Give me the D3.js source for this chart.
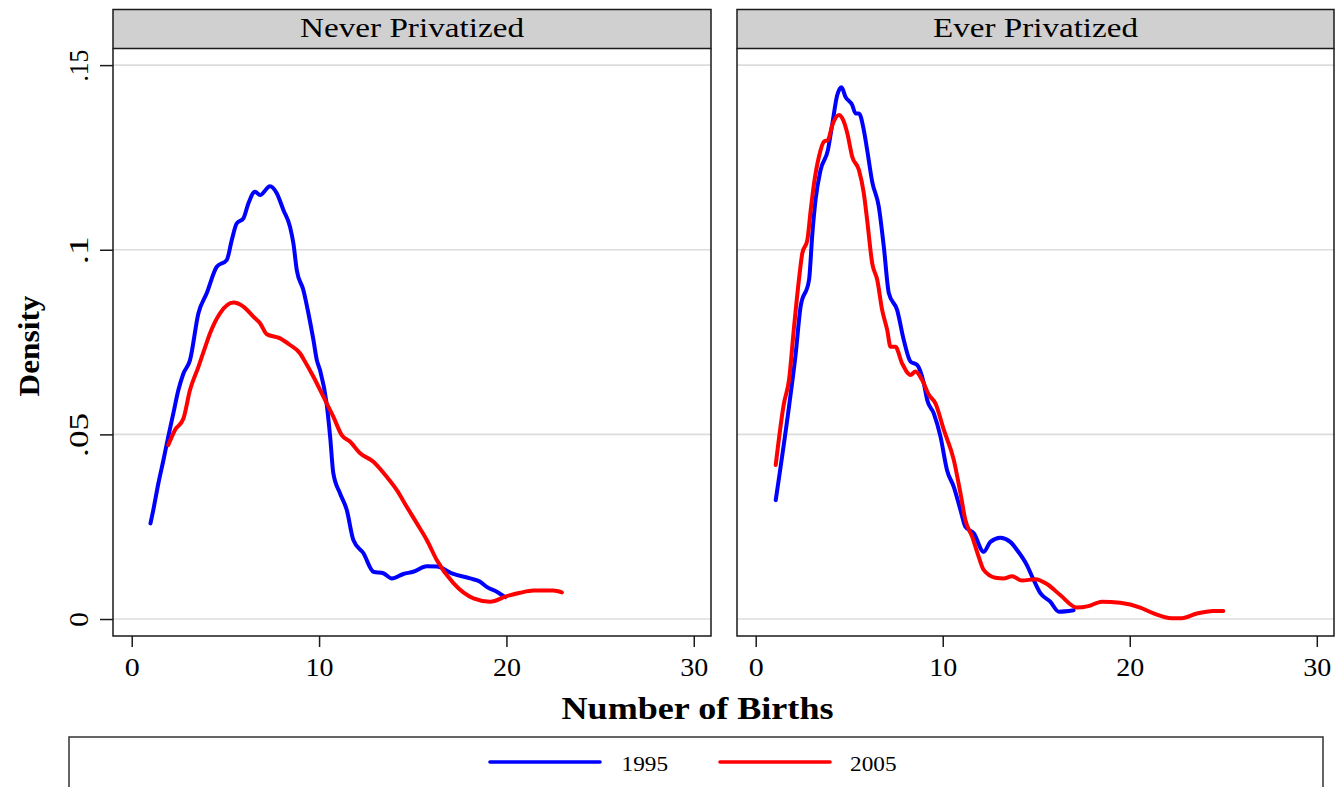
<!DOCTYPE html>
<html>
<head>
<meta charset="utf-8">
<script src="https://cdn.jsdelivr.net/npm/d3@7"></script>
<style>
html,body{margin:0;padding:0;background:#fff;}
svg{display:block;}
text{font-family:"Liberation Serif","Times New Roman",serif;fill:#000;}
</style>
</head>
<body>
<svg id="chart" width="1335" height="787"></svg>
<script>
// ---------- DATA ----------
const panelTitles = ["Never Privatized", "Ever Privatized"];
const seriesNames = ["1995", "2005"];
const xTicks = [0, 10, 20, 30];
const yTicks = [0, 0.05, 0.1, 0.15];
const yTickLabels = ["0", ".05", ".1", ".15"];

// Never Privatized, 1995
const neverX1995 = [1.0,1.15,1.42,1.69,1.95,2.22,2.49,2.76,3.11,3.56,4.0,4.54,5.07,5.34,5.6,5.96,6.23,6.58,6.85,7.38,7.74,8.1,8.45,8.63,8.81,9.16,9.43,9.7,9.88,10.05,10.4,10.59,10.76,11.12,11.48,11.83,12.37,12.9,13.43,13.88,14.5,15.03,15.75,16.28,17.17,18.06,18.6,18.95,19.49,19.93];
const neverY1995 = [0.0259,0.0295,0.0367,0.043,0.0494,0.0557,0.062,0.0665,0.0701,0.0828,0.0882,0.0954,0.0972,0.1026,0.1071,0.1085,0.1126,0.1157,0.1148,0.1172,0.1153,0.1107,0.1062,0.1017,0.0945,0.0891,0.0828,0.0755,0.0701,0.0674,0.0584,0.0494,0.0395,0.034,0.0295,0.0214,0.0178,0.0128,0.0124,0.011,0.0122,0.0128,0.0143,0.0142,0.0122,0.011,0.0101,0.0087,0.0074,0.0059];
// Never Privatized, 2005
const neverX2005 = [1.95,2.31,2.76,3.11,3.56,3.91,4.18,4.71,5.43,5.96,6.49,6.85,7.21,7.92,8.45,8.99,9.16,9.7,10.23,10.76,11.21,11.66,12.19,12.9,13.61,14.15,14.68,15.22,15.75,16.28,17.17,18.24,19.13,20.02,20.73,21.44,22.5,22.96];
const neverY2005 = [0.0471,0.0512,0.0543,0.062,0.0683,0.0735,0.0774,0.0828,0.0857,0.0846,0.0819,0.0801,0.0771,0.076,0.0742,0.0719,0.0705,0.0656,0.0602,0.0548,0.0498,0.048,0.0449,0.0426,0.0385,0.0349,0.0304,0.0259,0.0214,0.016,0.0097,0.0056,0.0047,0.0062,0.0071,0.0077,0.0077,0.0072];
// Ever Privatized, 1995
const everX1995 = [1.07,1.78,2.14,2.4,2.85,3.03,3.2,3.47,3.86,4.1,4.36,4.59,4.8,5.16,5.34,5.52,5.78,5.96,6.23,6.58,6.85,7.12,7.56,7.92,8.28,8.63,8.99,9.17,9.52,9.88,10.23,10.59,10.95,11.21,11.66,12.19,12.55,13.08,13.61,13.97,14.5,14.86,15.22,15.75,16.2,17.0];
const everY1995 = [0.0322,0.0575,0.0719,0.0846,0.0918,0.1044,0.1135,0.1216,0.127,0.1342,0.1419,0.144,0.1414,0.1392,0.1369,0.1369,0.1324,0.127,0.1184,0.1117,0.1008,0.0882,0.0837,0.0755,0.0697,0.0688,0.0638,0.0593,0.0557,0.0494,0.0403,0.0358,0.0295,0.025,0.0232,0.0182,0.0209,0.022,0.0209,0.0187,0.0146,0.0106,0.007,0.0047,0.002,0.0024];
// Ever Privatized, 2005
const everX2005 = [1.07,1.51,1.78,2.05,2.31,2.49,2.76,2.94,3.12,3.38,3.65,3.86,4.1,4.45,4.63,4.9,5.16,5.52,5.78,5.96,6.23,6.5,6.76,7.03,7.21,7.47,7.83,8.28,8.54,8.9,9.26,9.61,10.06,10.59,10.95,11.21,11.57,11.92,12.19,12.81,13.26,13.7,14.24,14.95,15.57,16.28,17.17,17.79,18.51,19.49,20.56,21.27,22.25,22.78,23.59,24.47,25.0];
const everY2005 = [0.0417,0.0584,0.0647,0.0791,0.0918,0.099,0.1026,0.1107,0.118,0.1252,0.1293,0.1297,0.1338,0.1365,0.1356,0.1315,0.1252,0.1216,0.1153,0.108,0.0963,0.0918,0.0837,0.0783,0.0737,0.0737,0.0692,0.0661,0.067,0.0647,0.0607,0.0584,0.0512,0.0431,0.034,0.0268,0.0223,0.0169,0.0133,0.0112,0.011,0.0116,0.0104,0.0108,0.0095,0.0065,0.0031,0.0035,0.0047,0.0044,0.0031,0.0015,0.0002,0.0002,0.0015,0.0022,0.0022];

const seriesColors = ["#0000ff", "#ff0000"];

const panels = [
  {title: panelTitles[0], series: [[neverX1995, neverY1995], [neverX2005, neverY2005]]},
  {title: panelTitles[1], series: [[everX1995, everY1995], [everX2005, everY2005]]}
];

// ---------- LAYOUT ----------
const svg = d3.select("#chart");
const panelBoxes = [{x0: 113, x1: 711, titleW: 224}, {x0: 737, x1: 1334, titleW: 205}];
const headTop = 9.5, plotTop = 48.5, plotBottom = 636;

const y = d3.scaleLinear().domain([-0.0046, 0.1545]).range([plotBottom, plotTop]);

panels.forEach((p, i) => {
  const b = panelBoxes[i];
  const x = d3.scaleLinear().domain([-1.0, 30.92]).range([b.x0, b.x1]);
  const g = svg.append("g");

  // header strip
  g.append("rect").attr("x", b.x0).attr("y", headTop).attr("width", b.x1 - b.x0).attr("height", plotTop - headTop)
    .attr("fill", "#d0d0d0").attr("stroke", "#1a1a1a").attr("stroke-width", 1.5);
  g.append("text").attr("x", (b.x0 + b.x1) / 2).attr("y", 37).attr("text-anchor", "middle")
    .attr("font-size", 27).attr("textLength", b.titleW).attr("lengthAdjust", "spacingAndGlyphs").text(p.title);

  // gridlines
  g.selectAll(".grid").data(yTicks).enter().append("line")
    .attr("x1", b.x0).attr("x2", b.x1).attr("y1", d => y(d)).attr("y2", d => y(d))
    .attr("stroke", "#dcdcdc").attr("stroke-width", 1.6);

  // series lines
  p.series.forEach((s, k) => {
    const pts = s[0].map((xv, j) => [xv, s[1][j]]);
    g.append("path").datum(pts)
      .attr("d", d3.line().x(d => x(d[0])).y(d => y(d[1])).curve(d3.curveMonotoneX))
      .attr("fill", "none").attr("stroke", seriesColors[k]).attr("stroke-width", 4)
      .attr("stroke-linejoin", "round").attr("stroke-linecap", "round");
  });

  // frame (left, right, bottom)
  g.append("path").attr("d", `M${b.x0},${plotTop}V${plotBottom}H${b.x1}V${plotTop}`)
    .attr("fill", "none").attr("stroke", "#1a1a1a").attr("stroke-width", 1.5);

  // x axis
  const xa = g.append("g").attr("transform", `translate(0,${plotBottom})`)
    .call(d3.axisBottom(x).tickValues(xTicks).tickSize(11).tickFormat(d3.format("d")));
  xa.select(".domain").remove();
  xa.selectAll(".tick line").attr("stroke", "#1a1a1a").attr("stroke-width", 1.5);
  xa.selectAll(".tick text").attr("font-size", 25).attr("font-family", "Liberation Serif")
    .attr("y", 40).attr("dy", 0).attr("fill", "#000")
    .attr("textLength", d => d === 0 ? 15 : 28).attr("lengthAdjust", "spacingAndGlyphs");

  // y axis only on first panel
  if (i === 0) {
    const ya = g.append("g").attr("transform", `translate(${b.x0},0)`)
      .call(d3.axisLeft(y).tickValues(yTicks).tickSize(13).tickFormat((d, j) => yTickLabels[j]));
    ya.select(".domain").remove();
    ya.selectAll(".tick line").attr("stroke", "#1a1a1a").attr("stroke-width", 1.5);
    ya.selectAll(".tick text").remove();
    ya.selectAll(".tick").append("text")
      .attr("transform", "translate(-25,0) rotate(-90)")
      .attr("text-anchor", "middle").attr("font-size", 28).attr("fill", "#000")
      .attr("textLength", (d, j) => [15, 44, 28, 32][j]).attr("lengthAdjust", "spacingAndGlyphs")
      .text((d, j) => yTickLabels[j]);
  }
});

// axis titles
svg.append("text").attr("transform", "translate(39,346) rotate(-90)").attr("text-anchor", "middle")
  .attr("font-size", 29).attr("font-weight", "bold").attr("textLength", 101).attr("lengthAdjust", "spacingAndGlyphs")
  .text("Density");
svg.append("text").attr("x", 697.5).attr("y", 719).attr("text-anchor", "middle")
  .attr("font-size", 31).attr("font-weight", "bold").attr("textLength", 272).attr("lengthAdjust", "spacingAndGlyphs")
  .text("Number of Births");

// legend
svg.append("rect").attr("x", 69).attr("y", 737).attr("width", 1254).attr("height", 90)
  .attr("fill", "#fff").attr("stroke", "#333").attr("stroke-width", 1.5);
const legItems = [{x1: 490, x2: 600, tx: 621.5}, {x1: 720, x2: 830, tx: 850}];
seriesNames.forEach((n, k) => {
  const it = legItems[k];
  svg.append("line").attr("x1", it.x1).attr("x2", it.x2).attr("y1", 762).attr("y2", 762)
    .attr("stroke", seriesColors[k]).attr("stroke-width", 3.6).attr("stroke-linecap", "round");
  svg.append("text").attr("x", it.tx).attr("y", 771).attr("font-size", 21.5)
    .attr("textLength", 46.5).attr("lengthAdjust", "spacingAndGlyphs").text(n);
});
</script>
</body>
</html>
